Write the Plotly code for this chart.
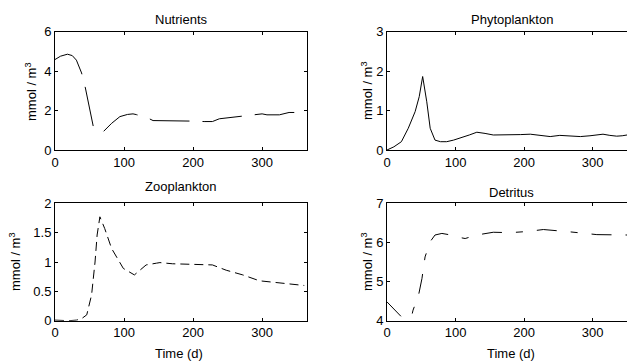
import plotly.graph_objects as go

# ---- data ----
nut_day = [0, 8, 18, 25, 31, 38.5, 44, 50, 56, 63, 70, 82, 94, 105, 113, 118, 128, 135, 142, 160, 180, 195, 205, 216, 228, 238, 257, 274, 283, 293, 300, 307, 325, 339, 348]
nut_val = [4.58, 4.75, 4.85, 4.78, 4.55, 3.9, 3.14, 2.1, 1.1, 1.0, 0.93, 1.35, 1.69, 1.8, 1.83, 1.79, 1.7, 1.61, 1.49, 1.49, 1.49, 1.49, 1.46, 1.44, 1.44, 1.58, 1.66, 1.71, 1.76, 1.81, 1.83, 1.78, 1.78, 1.9, 1.9]

phy_day = [0, 10, 21, 31, 41, 47, 52, 55, 58, 63, 70, 78, 87, 97, 107, 120, 131, 138, 143, 155, 168, 180, 195, 209, 224, 238, 252, 267, 282, 296, 305, 315, 325, 335, 343, 350]
phy_val = [0.0, 0.08, 0.21, 0.55, 0.97, 1.35, 1.86, 1.55, 1.22, 0.55, 0.25, 0.21, 0.21, 0.25, 0.3, 0.38, 0.45, 0.44, 0.42, 0.38, 0.38, 0.38, 0.39, 0.4, 0.37, 0.34, 0.37, 0.36, 0.34, 0.36, 0.38, 0.4, 0.37, 0.35, 0.36, 0.38]

zoo_day = [0, 10, 20, 31, 38, 46, 53, 58, 61, 65, 72, 82, 99, 115, 132, 147, 152, 170, 190, 209, 228, 248, 272, 296, 320, 344, 361]
zoo_val = [0.01, 0.0, 0.0, 0.01, 0.03, 0.1, 0.44, 1.0, 1.46, 1.77, 1.57, 1.23, 0.89, 0.78, 0.95, 0.98, 0.99, 0.97, 0.96, 0.95, 0.95, 0.86, 0.78, 0.68, 0.65, 0.62, 0.6]

det_day = [0, 7, 14, 21, 28, 36, 38, 46, 51, 55.5, 63, 70, 80, 90, 102, 114, 131, 155, 180, 205, 228, 245, 267, 306, 345, 350]
det_val = [4.48, 4.35, 4.23, 4.1, 4.07, 4.12, 4.27, 4.65, 5.08, 5.63, 6.02, 6.19, 6.23, 6.2, 6.14, 6.1, 6.19, 6.26, 6.25, 6.28, 6.33, 6.31, 6.27, 6.2, 6.19, 6.19]

titles = ["Nutrients", "Phytoplankton", "Zooplankton", "Detritus"]
y_title = "mmol / m<sup>3</sup>"
x_title = "Time (d)"

FONT = "Liberation Sans, Arial, sans-serif"
W, H = 627, 362

def px(x):
    return x / W

def py(y):
    return 1 - y / H

fig = go.Figure()

fig.add_trace(go.Scatter(x=nut_day, y=nut_val, mode="lines", xaxis="x", yaxis="y",
                         line=dict(color="black", width=1, dash="40px,13px"), showlegend=False))
fig.add_trace(go.Scatter(x=phy_day, y=phy_val, mode="lines", xaxis="x2", yaxis="y2",
                         line=dict(color="black", width=1), showlegend=False))
fig.add_trace(go.Scatter(x=zoo_day, y=zoo_val, mode="lines", xaxis="x3", yaxis="y3",
                         line=dict(color="black", width=1, dash="9px,5px"), showlegend=False))
fig.add_trace(go.Scatter(x=det_day, y=det_val, mode="lines", xaxis="x4", yaxis="y4",
                         line=dict(color="black", width=1, dash="20px,14px,7px,14px"), showlegend=False))

left_dom = [px(55), px(307)]
right_dom = [px(387), 1.0]
top_dom = [py(150), py(31.5)]
bot_dom = [py(320.7), py(203.3)]

tickfont = dict(family=FONT, size=13, color="black")

def xax(dom, anchor, rng):
    return dict(domain=dom, anchor=anchor, range=rng, tickvals=[0, 100, 200, 300],
                ticks="inside", ticklen=3, tickcolor="black", showline=True, linecolor="black",
                linewidth=1, mirror="ticks", showgrid=False, zeroline=False, tickfont=tickfont,
                automargin=False)

def yax(dom, anchor, rng, tv, tt, mirror):
    return dict(domain=dom, anchor=anchor, range=rng, tickvals=tv, ticktext=tt,
                ticks="inside", ticklen=3, tickcolor="black", showline=True, linecolor="black",
                linewidth=1, mirror=mirror, showgrid=False, zeroline=False, tickfont=tickfont,
                automargin=False)

fig.update_layout(
    width=W, height=H,
    autosize=False,
    margin=dict(l=0, r=0, t=0, b=0, pad=0, autoexpand=False),
    paper_bgcolor="white", plot_bgcolor="white",
    font=dict(family=FONT, color="black"),
    xaxis=xax(left_dom, "y", [0, 365]),
    yaxis=yax(top_dom, "x", [0, 6], [0, 2, 4, 6], ["0", "2", "4", "6"], "ticks"),
    xaxis2=xax(right_dom, "y2", [0, 350]),
    yaxis2=yax(top_dom, "x2", [0, 3], [0, 1, 2, 3], ["0", "1", "2", "3"], False),
    xaxis3=xax(left_dom, "y3", [0, 365]),
    yaxis3=yax(bot_dom, "x3", [0, 2], [0, 0.5, 1, 1.5, 2], ["0", "0.5", "1", "1.5", "2"], "ticks"),
    xaxis4=xax(right_dom, "y4", [0, 350]),
    yaxis4=yax(bot_dom, "x4", [4, 7], [4, 5, 6, 7], ["4", "5", "6", "7"], False),
)

ann = []
title_pos = [(181, 20), (512, 19.5), (181, 187), (511, 192)]
for t, (x, y) in zip(titles, title_pos):
    ann.append(dict(text=t, x=px(x), y=py(y), xref="paper", yref="paper", showarrow=False,
                    xanchor="center", yanchor="middle", font=dict(family=FONT, size=13, color="black")))
for (x, y) in [(31, 91), (367, 91), (15, 262), (367, 262)]:
    ann.append(dict(text=y_title, x=px(x), y=py(y), xref="paper", yref="paper", showarrow=False,
                    textangle=-90, xanchor="center", yanchor="middle",
                    font=dict(family=FONT, size=13, color="black")))
for (x, y) in [(179, 353), (511, 353)]:
    ann.append(dict(text=x_title, x=px(x), y=py(y), xref="paper", yref="paper", showarrow=False,
                    xanchor="center", yanchor="middle", font=dict(family=FONT, size=13, color="black")))
fig.update_layout(annotations=ann)

fig.write_html("out.html", config={"responsive": False, "displayModeBar": False},
               post_script="document.body.style.margin='0';document.body.style.overflow='hidden';")
